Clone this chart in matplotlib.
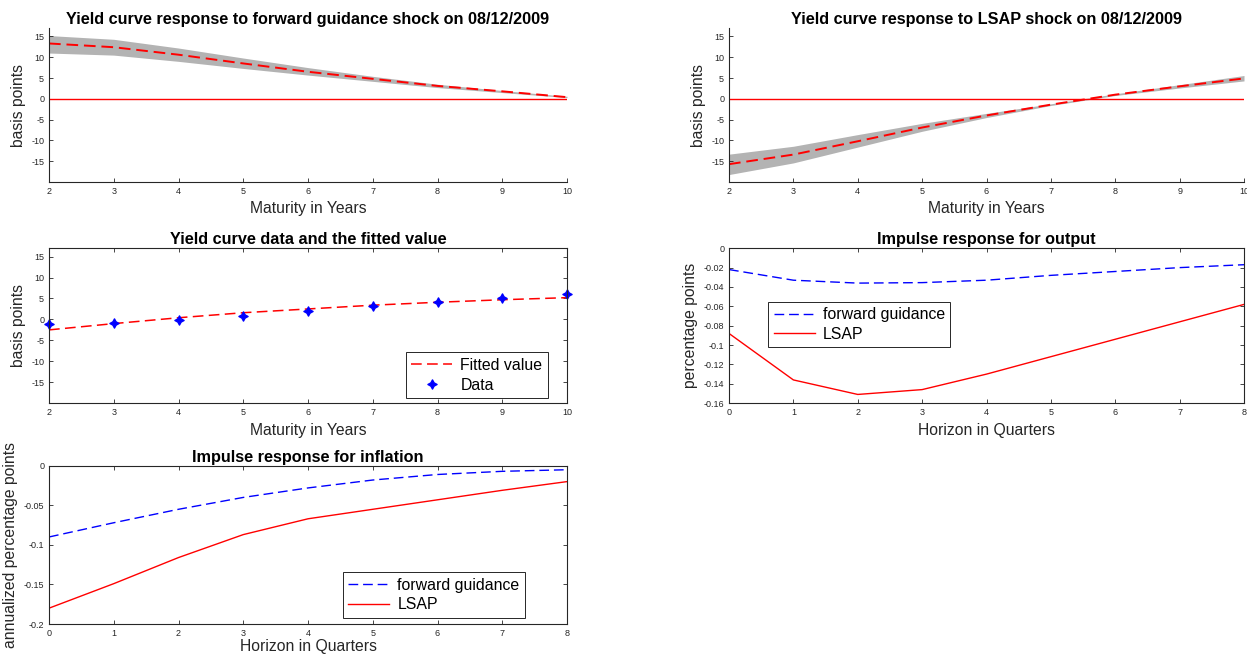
import matplotlib.pyplot as plt
import numpy as np

# data
maturities = [2, 3, 4, 5, 6, 7, 8, 9, 10]
horizons = [0, 1, 2, 3, 4, 5, 6, 7, 8]

fg_yield = [13.3, 12.4, 10.6, 8.5, 6.5, 4.8, 3.1, 1.8, 0.4]
fg_yield_low = [11.0, 10.5, 9.0, 7.3, 5.7, 4.2, 2.7, 1.5, 0.3]
fg_yield_high = [15.2, 14.3, 12.2, 9.8, 7.5, 5.4, 3.5, 2.0, 0.6]

lsap_yield = [-15.7, -13.4, -10.2, -6.9, -4.0, -1.4, 1.0, 3.0, 4.9]
lsap_yield_low = [-18.2, -15.4, -11.6, -7.8, -4.5, -1.6, 0.8, 2.6, 4.3]
lsap_yield_high = [-13.3, -11.4, -8.6, -5.9, -3.5, -1.2, 1.2, 3.4, 5.6]

fitted_value = [-2.5, -1.0, 0.4, 1.6, 2.5, 3.4, 4.1, 4.7, 5.2]
yield_data = [-1.2, -0.9, -0.2, 0.8, 2.0, 3.1, 4.2, 5.2, 6.1]

output_fg = [-0.022, -0.033, -0.036, -0.0355, -0.033, -0.028, -0.024, -0.020, -0.017]
output_lsap = [-0.088, -0.136, -0.151, -0.146, -0.130, -0.112, -0.094, -0.076, -0.058]

inflation_fg = [-0.090, -0.072, -0.055, -0.040, -0.028, -0.018, -0.011, -0.007, -0.005]
inflation_lsap = [-0.180, -0.149, -0.116, -0.087, -0.067, -0.055, -0.043, -0.031, -0.020]

DARK = '#262626'
TITLE_FS = 11.7
LABEL_FS = 11.3
LEG_FS = 11.4


def style_axes(ax, box=True):
    ax.tick_params(direction='in', labelsize=6.5, colors=DARK, length=3,
                   width=0.6, top=box, right=box)
    for side, sp in ax.spines.items():
        sp.set_color(DARK)
        sp.set_linewidth(0.8)
        if not box and side in ('top', 'right'):
            sp.set_visible(False)


def make_legend(ax, **kw):
    leg = ax.legend(fontsize=LEG_FS, fancybox=False, edgecolor=DARK,
                    framealpha=1, handlelength=2.6, borderpad=0.35,
                    labelspacing=0.3, handletextpad=0.5, borderaxespad=0,
                    **kw)
    leg.get_frame().set_linewidth(0.7)


def yield_panel(ax, x, mid, low, high, title):
    ax.fill_between(x, low, high, color='#b3b3b3', lw=0)
    ax.plot(x, mid, '--', color='red', lw=1.4, dashes=(6, 3))
    ax.axhline(0, color='red', lw=1)
    ax.set_xlim(2, 10)
    ax.set_ylim(-20, 17)
    ax.set_yticks(np.arange(-15, 16, 5))
    ax.set_xticks(maturities)
    ax.set_title(title, fontweight='bold', fontsize=TITLE_FS, pad=3)
    ax.set_xlabel('Maturity in Years', fontsize=LABEL_FS, color=DARK)
    ax.set_ylabel('basis points', fontsize=LABEL_FS, color=DARK)
    style_axes(ax, box=False)


def main() -> None:
    plt.rcParams['font.family'] = ['Liberation Sans', 'DejaVu Sans']
    plt.rcParams['axes.unicode_minus'] = False
    fig = plt.figure(figsize=(12.47, 6.62), dpi=100)

    lx, lw = 0.0393, 0.4154
    rx, rw = 0.5846, 0.413
    rows = [(0.725, 0.2326), (0.391, 0.234), (0.0574, 0.239)]

    ax1 = fig.add_axes([lx, rows[0][0], lw, rows[0][1]])
    yield_panel(ax1, maturities, fg_yield, fg_yield_low, fg_yield_high,
                'Yield curve response to forward guidance shock on 08/12/2009')

    ax2 = fig.add_axes([rx, rows[0][0], rw, rows[0][1]])
    yield_panel(ax2, maturities, lsap_yield, lsap_yield_low, lsap_yield_high,
                'Yield curve response to LSAP shock on 08/12/2009')

    ax3 = fig.add_axes([lx, rows[1][0], lw, rows[1][1]])
    ax3.plot(maturities, fitted_value, '--', color='red', lw=1.1,
             dashes=(7, 3.5), label='Fitted value')
    ax3.plot(maturities, yield_data, marker=(4, 1, 0), color='blue', ms=7,
             mew=0.8, linestyle='none', label='Data', clip_on=False)
    ax3.set_xlim(2, 10)
    ax3.set_ylim(-20, 17)
    ax3.set_yticks(np.arange(-15, 16, 5))
    ax3.set_xticks(maturities)
    ax3.set_title('Yield curve data and the fitted value', fontweight='bold',
                  fontsize=TITLE_FS, pad=3)
    ax3.set_xlabel('Maturity in Years', fontsize=LABEL_FS, color=DARK)
    ax3.set_ylabel('basis points', fontsize=LABEL_FS, color=DARK)
    style_axes(ax3)
    make_legend(ax3, loc='lower right', bbox_to_anchor=(0.963, 0.032))

    ax4 = fig.add_axes([rx, rows[1][0], rw, rows[1][1]])
    ax4.plot(horizons, output_fg, '--', color='blue', lw=1, dashes=(7, 3.5),
             label='forward guidance')
    ax4.plot(horizons, output_lsap, '-', color='red', lw=1, label='LSAP')
    ax4.set_xlim(0, 8)
    ax4.set_ylim(-0.16, 0)
    ax4.set_yticks(np.arange(-0.16, 0.001, 0.02))
    ax4.set_yticklabels(['-0.16', '-0.14', '-0.12', '-0.1', '-0.08', '-0.06',
                         '-0.04', '-0.02', '0'])
    ax4.set_title('Impulse response for output', fontweight='bold',
                  fontsize=TITLE_FS, pad=3)
    ax4.set_xlabel('Horizon in Quarters', fontsize=LABEL_FS, color=DARK)
    ax4.set_ylabel('percentage points', fontsize=LABEL_FS, color=DARK)
    style_axes(ax4)
    make_legend(ax4, loc='lower left', bbox_to_anchor=(0.076, 0.36))

    ax5 = fig.add_axes([lx, rows[2][0], lw, rows[2][1]])
    ax5.plot(horizons, inflation_fg, '--', color='blue', lw=1, dashes=(7, 3.5),
             label='forward guidance')
    ax5.plot(horizons, inflation_lsap, '-', color='red', lw=1, label='LSAP')
    ax5.set_xlim(0, 8)
    ax5.set_ylim(-0.2, 0)
    ax5.set_yticks([-0.2, -0.15, -0.1, -0.05, 0])
    ax5.set_yticklabels(['-0.2', '-0.15', '-0.1', '-0.05', '0'])
    ax5.set_title('Impulse response for inflation', fontweight='bold',
                  fontsize=TITLE_FS, pad=3)
    ax5.set_xlabel('Horizon in Quarters', fontsize=LABEL_FS, color=DARK,
                   labelpad=1)
    ax5.set_ylabel('annualized percentage points', fontsize=LABEL_FS,
                   color=DARK)
    style_axes(ax5)
    make_legend(ax5, loc='lower right', bbox_to_anchor=(0.919, 0.038))

    plt.savefig('out.png', dpi=100)


if __name__ == "__main__":
    main()
